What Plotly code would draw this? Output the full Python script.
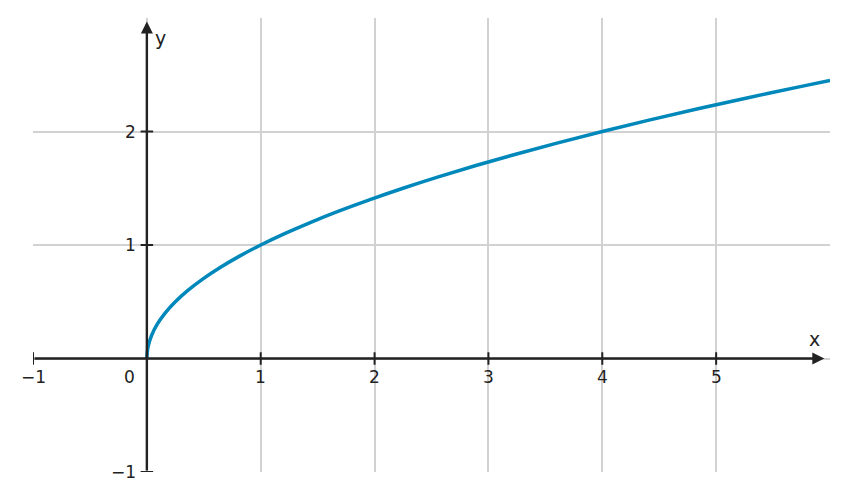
import plotly.graph_objects as go

xs = [0, 0.01, 0.04, 0.09, 0.16, 0.25, 0.36, 0.49, 0.64, 0.81, 1.0, 1.21, 1.44, 1.69,
      1.96, 2.25, 2.56, 2.89, 3.24, 3.61, 4.0, 4.41, 4.84, 5.29, 5.76, 6.0]
ys = [0, 0.1, 0.2, 0.3, 0.4, 0.5, 0.6, 0.7, 0.8, 0.9, 1.0, 1.1, 1.2, 1.3,
      1.4, 1.5, 1.6, 1.7, 1.8, 1.9, 2.0, 2.1, 2.2, 2.3, 2.4, 2.45]

x_ticks = [-1, 1, 2, 3, 4, 5]
x_labels = ["−1", "1", "2", "3", "4", "5"]
y_ticks = [-1, 1, 2]
y_labels = ["−1", "1", "2"]

ink = "#222222"
font = dict(family="DejaVu Sans", size=17, color=ink)

fig = go.Figure()
fig.add_trace(go.Scatter(x=xs, y=ys, mode="lines", line=dict(color="#0088bb", width=3.5, shape="spline"),
                         hoverinfo="skip"))

shapes = []
annotations = []
t = 0.055
for v, lab in zip(x_ticks, x_labels):
    shapes.append(dict(type="line", x0=v, x1=v, y0=-t, y1=t, line=dict(color=ink, width=2)))
    annotations.append(dict(x=v, y=-0.06, text=lab, showarrow=False, yanchor="top", font=font))
annotations.append(dict(x=-0.15, y=-0.06, text="0", showarrow=False, yanchor="top", font=font))
for v, lab in zip(y_ticks, y_labels):
    shapes.append(dict(type="line", x0=-t, x1=t, y0=v, y1=v, line=dict(color=ink, width=2)))
    annotations.append(dict(x=-0.08, y=v, text=lab, showarrow=False, xanchor="right", font=font))

# axes with arrows
annotations.append(dict(x=5.95, y=0, ax=-1, ay=0, xref="x", yref="y", axref="x", ayref="y",
                        showarrow=True, arrowhead=2, arrowsize=1, arrowwidth=2.4, arrowcolor=ink, text=""))
annotations.append(dict(x=0, y=2.97, ax=0, ay=-1, xref="x", yref="y", axref="x", ayref="y",
                        showarrow=True, arrowhead=2, arrowsize=1, arrowwidth=2.4, arrowcolor=ink, text=""))
annotations.append(dict(x=5.86, y=0.06, text="x", showarrow=False, yanchor="bottom", font=dict(family="DejaVu Sans", size=19, color=ink)))
annotations.append(dict(x=0.05, y=2.82, text="y", showarrow=False, xanchor="left", font=dict(family="DejaVu Sans", size=19, color=ink)))

grid = dict(showgrid=True, gridcolor="#d2d2d2", gridwidth=1.5, zeroline=False, showticklabels=False,
            ticks="", showline=False, dtick=1)
fig.update_layout(
    width=847, height=501, margin=dict(l=25, r=25, t=10, b=37),
    plot_bgcolor="white", paper_bgcolor="white", showlegend=False,
    xaxis=dict(range=[-1, 6], tick0=-1, **grid),
    yaxis=dict(range=[-1, 3], tick0=-1, **grid),
    shapes=shapes, annotations=annotations,
)
fig.write_html("out.html")
